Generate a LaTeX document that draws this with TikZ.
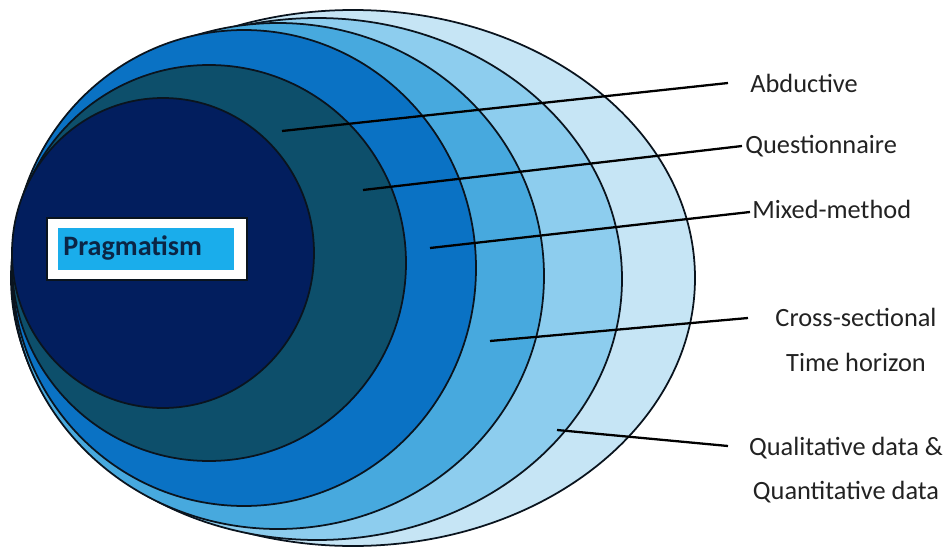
\documentclass[tikz,border=0pt]{standalone}
\usepackage{fontspec}
\setmainfont{Carlito}
\definecolor{ringA}{HTML}{C6E5F5}
\definecolor{ringB}{HTML}{8DCDEE}
\definecolor{ringC}{HTML}{47A9DE}
\definecolor{ringD}{HTML}{0A72C4}
\definecolor{ringE}{HTML}{0D4F6B}
\definecolor{ringF}{HTML}{021E5E}
\definecolor{cyanbox}{HTML}{1AADEB}
\definecolor{navytext}{HTML}{0B2545}
\definecolor{labelgray}{HTML}{222222}
\definecolor{edgeline}{HTML}{0A141E}
\begin{document}
\begin{tikzpicture}[x=0.02cm, y=-0.02cm,
    every node/.style={font=\fontsize{15}{25.5}\selectfont, text=labelgray},
    ring/.style={draw=edgeline, line width=1pt},
    leader/.style={draw=black, line width=1.3pt}]
  \useasboundingbox (0,0) rectangle (948,548);
  \coordinate (data)     at (353,278);
  \coordinate (horizon)  at (317,279);
  \coordinate (choice)   at (278,276);
  \coordinate (strategy) at (244,268);
  \coordinate (approach) at (209,263);
  \coordinate (philo)    at (163,253);

  \draw[ring, fill=ringA] (data)     ellipse [x radius=342, y radius=268];
  \draw[ring, fill=ringB] (horizon)  ellipse [x radius=305, y radius=261];
  \draw[ring, fill=ringC] (choice)   ellipse [x radius=266, y radius=253];
  \draw[ring, fill=ringD] (strategy) ellipse [x radius=232, y radius=238];
  \draw[ring, fill=ringE] (approach) ellipse [x radius=197, y radius=198];
  \draw[ring, fill=ringF] (philo)    ellipse [x radius=151, y radius=155];

  % philosophy label
  \node[draw=edgeline, line width=0.6pt, fill=white, minimum width=4cm, minimum height=1.24cm] (box) at (147,249) {};
  \node[fill=cyanbox, minimum width=3.52cm, minimum height=0.84cm] (inner) at (146,249) {};
  \node[anchor=west, inner sep=0pt, text=navytext, font=\bfseries\fontsize{16}{18}\selectfont] (prag) at (63,248) {Pragmatism};

  % leader lines
  \coordinate (s1) at (282,131);  \coordinate (e1) at (728,83);
  \coordinate (s2) at (363,190);  \coordinate (e2) at (742,146);
  \coordinate (s3) at (430,248);  \coordinate (e3) at (750,212);
  \coordinate (s4) at (490,341);  \coordinate (e4) at (748,318);
  \coordinate (s5) at (557,430);  \coordinate (e5) at (728,446);
  \draw[leader] (s1) -- (e1);
  \draw[leader] (s2) -- (e2);
  \draw[leader] (s3) -- (e3);
  \draw[leader] (s4) -- (e4);
  \draw[leader] (s5) -- (e5);

  \node[anchor=west, inner sep=0pt] (abd) at (750,83)  {Abductive};
  \node[anchor=west, inner sep=0pt] (que) at (745,146) {Questionnaire};
  \node[anchor=west, inner sep=0pt] (mix) at (752,209) {Mixed-method};
  \node[align=center, inner sep=0pt] (cro) at (856,340) {Cross-sectional\\Time horizon};
  \node[align=center, inner sep=0pt] (qua) at (846,470) {Qualitative data \&\\Quantitative data};
\end{tikzpicture}
\end{document}
